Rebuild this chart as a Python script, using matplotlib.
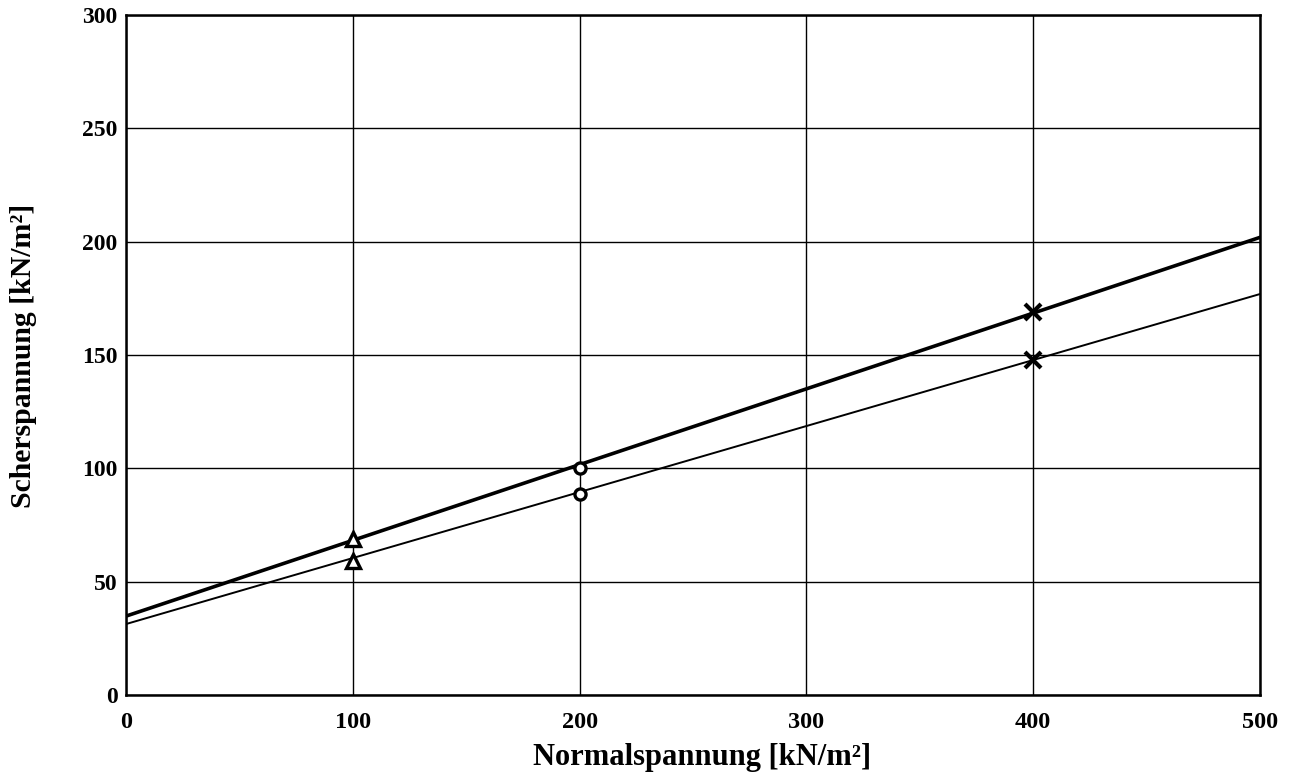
import matplotlib
matplotlib.use("Agg")
import matplotlib.pyplot as plt

# Data
normal = [100, 200, 400]
peak_shear = [69, 100.3, 169]
resid_shear = [59.2, 88.8, 148]
line_x = [0, 500]
peak_line = [34.8, 201.9]
resid_line = [31.3, 176.9]
xticks = [0, 100, 200, 300, 400, 500]
yticks = [0, 50, 100, 150, 200, 250, 300]

plt.rcParams['font.family'] = ['Liberation Serif', 'DejaVu Serif']
plt.rcParams['font.weight'] = 'bold'

W, H = 1293, 779
fig = plt.figure(figsize=(W/100, H/100), dpi=100)
ax = fig.add_axes([126/W, 1-695/H, (1260-126)/W, (695-15)/H])

ax.plot(line_x, peak_line, color='black', lw=2.6, zorder=3)
ax.plot(line_x, resid_line, color='black', lw=1.4, zorder=3)

markers = ['^', 'o', 'x']
sizes = [10, 8, 12]
for xi, p, r, m, s in zip(normal, peak_shear, resid_shear, markers, sizes):
    for yv in (p, r):
        if m == 'x':
            ax.plot(xi, yv, marker=m, ms=s, mew=3, color='black', zorder=4)
        else:
            ax.plot(xi, yv, marker=m, ms=s, mew=2.4, mfc='white', mec='black', zorder=4)

ax.set_xlim(0, 500)
ax.set_ylim(0, 300)
ax.set_xticks(xticks)
ax.set_yticks(yticks)
ax.grid(True, color='black', lw=1)
ax.set_axisbelow(True)
for sp in ax.spines.values():
    sp.set_linewidth(1.8)
ax.tick_params(axis='y', length=0, labelsize=17, pad=6)
ax.tick_params(axis='x', length=0, labelsize=17.5, pad=12)
for lab in ax.get_xticklabels() + ax.get_yticklabels():
    lab.set_fontweight('bold')

fig.text(702/W, 1-757/H, 'Normalspannung [kN/m²]', fontsize=22, fontweight='bold',
         ha='center', va='center')
fig.text(24/W, 1-356/H, 'Scherspannung [kN/m²]', fontsize=21.4, fontweight='bold',
         ha='center', va='center', rotation=90)

fig.savefig('out.png', dpi=100)
